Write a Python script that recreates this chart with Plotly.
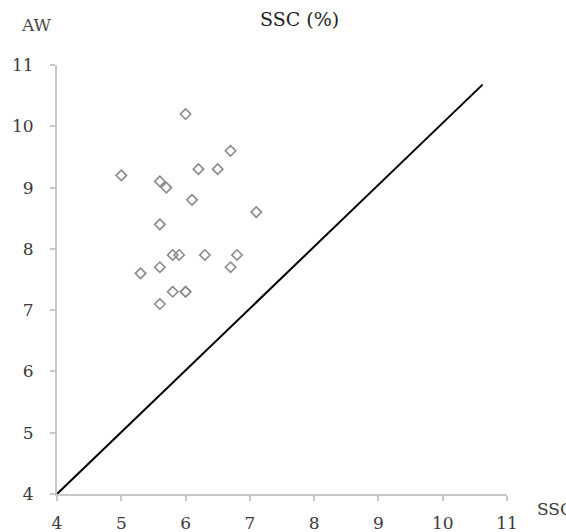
import plotly.graph_objects as go

# Scatter data (x: SSC, y: AW)
ssc_x = [6.0, 6.7, 5.0, 6.2, 6.5, 5.6, 5.7, 6.1, 7.1, 5.6,
         5.8, 5.9, 6.3, 6.8, 5.6, 6.7, 5.3, 5.8, 6.0, 6.0, 5.6]
aw_y = [10.2, 9.6, 9.2, 9.3, 9.3, 9.1, 9.0, 8.8, 8.6, 8.4,
        7.9, 7.9, 7.9, 7.9, 7.7, 7.7, 7.6, 7.3, 7.3, 7.3, 7.1]

# Reference line
line_x = [4, 10.62]
line_y = [4, 10.68]

tick_vals = [4, 5, 6, 7, 8, 9, 10, 11]
tick_text = ["4", "5", "6", "7", "8", "9", "10", "11"]

W, H = 566, 532
ML, MR, MT, MB = 57, 59, 65, 38
PW, PH = W - ML - MR, H - MT - MB

def px2paper(x, y):
    return (x - ML) / PW, (H - MB - y) / PH

font_family = "DejaVu Serif"

fig = go.Figure()
fig.add_trace(go.Scatter(
    x=line_x, y=line_y, mode="lines",
    line=dict(color="black", width=2), showlegend=False, hoverinfo="skip"))
fig.add_trace(go.Scatter(
    x=ssc_x, y=aw_y, mode="markers",
    marker=dict(symbol="diamond-open", size=8, color="#8a8a8a",
                line=dict(width=1.6, color="#8a8a8a")),
    showlegend=False))

axis_common = dict(
    range=[4, 11], tickvals=tick_vals, ticktext=tick_text,
    showline=True, linecolor="#c8c8c8", linewidth=2,
    ticks="outside", ticklen=5, tickcolor="#c8c8c8", tickwidth=1.5,
    showgrid=False, zeroline=False, automargin=False,
    tickfont=dict(family=font_family, size=17, color="#3a3a3a"),
)

fig.update_layout(
    width=W, height=H,
    margin=dict(l=ML, r=MR, t=MT, b=MB, pad=0),
    plot_bgcolor="white", paper_bgcolor="white",
    font=dict(family=font_family),
    xaxis=dict(**axis_common, ticklabelstandoff=8),
    yaxis=dict(**axis_common, ticklabelstandoff=13),
)

ax, ay = px2paper(36, 25)
tx, ty = px2paper(299, 19)
sx, sy = px2paper(535, 509)
fig.add_annotation(text="AW", x=ax, y=ay, xref="paper", yref="paper",
                   showarrow=False, xanchor="center", yanchor="middle",
                   font=dict(family=font_family, size=17, color="#4a4a4a"))
fig.add_annotation(text="SSC (%)", x=tx, y=ty, xref="paper", yref="paper",
                   showarrow=False, xanchor="center", yanchor="middle",
                   font=dict(family=font_family, size=19, color="#1e1e1e"))
fig.add_annotation(text="SSC", x=sx, y=sy, xref="paper", yref="paper",
                   showarrow=False, xanchor="left", yanchor="middle",
                   font=dict(family=font_family, size=17, color="#3a3a3a"))

fig.write_html("out.html")
